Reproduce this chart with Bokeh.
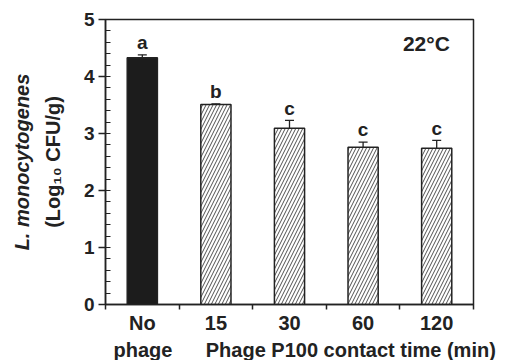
from bokeh.plotting import figure
from bokeh.models import (Range1d, FixedTicker, ColumnDataSource, Whisker, TeeHead,
                          Label, LabelSet, LinearAxis, Title)
from bokeh.core.properties import value
from bokeh.embed import file_html
from bokeh.resources import INLINE

# ---- data ----
categories = ["No", "15", "30", "60", "120"]
category_second_line = "phage"
counts = [4.33, 3.51, 3.09, 2.76, 2.74]
errors = [0.05, 0.01, 0.14, 0.09, 0.14]
letters = ["a", "b", "c", "c", "c"]
y_ticks = [0, 1, 2, 3, 4, 5]
x_title = "Phage P100 contact time (min)"
y_title_1 = "L. monocytogenes"
y_title_2 = "(Log\u2081\u2080 CFU/g)"
temp_label = "22\u00b0C"

FONT = "Liberation Sans"
INK = "#222222"

n = len(categories)
xs = [i + 0.5 for i in range(n)]

p = figure(width=514, height=360, output_backend="svg", toolbar_location=None,
           x_range=Range1d(0, n), y_range=Range1d(0, 5),
           min_border_left=105, min_border_right=41, min_border_top=19,
           min_border_bottom=0)
p.background_fill_color = "white"
p.border_fill_color = "white"
p.xgrid.visible = False
p.ygrid.visible = False
p.outline_line_color = INK
p.outline_line_width = 1.5

# ---- y axis ----
ya = p.yaxis[0]
ya.ticker = FixedTicker(ticks=y_ticks, minor_ticks=[i * 0.2 for i in range(26)])
ya.axis_line_width = 1.5
ya.axis_line_color = INK
ya.major_tick_line_color = INK
ya.major_tick_line_width = 1.5
ya.major_tick_out = 7
ya.major_tick_in = 0
ya.minor_tick_line_color = INK
ya.minor_tick_line_width = 1.2
ya.minor_tick_in = 5
ya.minor_tick_out = 0
ya.major_label_text_font = FONT
ya.major_label_text_font_style = "bold"
ya.major_label_text_font_size = "19px"
ya.major_label_text_color = INK
ya.major_label_standoff = 4
ya.axis_label = y_title_2
ya.axis_label_text_font = FONT
ya.axis_label_text_font_style = "bold"
ya.axis_label_text_font_size = "20px"
ya.axis_label_text_color = INK
ya.axis_label_standoff = 17

ya2 = LinearAxis(ticker=FixedTicker(ticks=[]), axis_label=y_title_1,
                 axis_line_color=None, major_tick_line_color=None,
                 minor_tick_line_color=None, major_label_text_font_size="0px",
                 axis_label_text_font=FONT,
                 axis_label_text_font_style="bold italic",
                 axis_label_text_font_size="20px",
                 axis_label_text_color=INK, axis_label_standoff=6)
p.add_layout(ya2, "left")

# ---- x axis: labels at bar centres, ticks at category boundaries ----
xa = p.xaxis[0]
xa.ticker = FixedTicker(ticks=xs, minor_ticks=list(range(n + 1)))
xa.major_label_overrides = {x: c for x, c in zip(xs, categories)}
xa.axis_line_width = 1.5
xa.axis_line_color = INK
xa.major_tick_line_color = None
xa.major_tick_out = 0
xa.major_tick_in = 0
xa.minor_tick_line_color = INK
xa.minor_tick_line_width = 1.5
xa.minor_tick_out = 5
xa.minor_tick_in = 0
xa.major_label_text_font = FONT
xa.major_label_text_font_style = "bold"
xa.major_label_text_font_size = "20px"
xa.major_label_text_color = INK
xa.major_label_standoff = 2

nb = "\u00a0" * 6
p.add_layout(Title(text=category_second_line + nb + x_title, align="left",
                   offset=8, text_font=FONT, text_font_style="bold",
                   text_font_size="20px", text_color=INK, standoff=0),
             "below")

# ---- bars ----
src = ColumnDataSource(dict(
    x=xs, top=counts,
    upper=[c + e for c, e in zip(counts, errors)],
    lower=[c - e for c, e in zip(counts, errors)],
    letter_y=[c + e + 0.1 for c, e in zip(counts, errors)],
    letters=letters,
    fill=["#1c1c1c"] + ["white"] * (n - 1),
    hatch=[" "] + ["/"] * (n - 1),
))
p.vbar(x="x", top="top", width=0.41, bottom=0, source=src,
       fill_color="fill", line_color=INK, line_width=1.5,
       hatch_pattern="hatch", hatch_color=INK, hatch_scale=7,
       hatch_weight=0.8)

w = Whisker(base="x", upper="upper", lower="lower", source=src,
            line_color=INK, line_width=1.3,
            upper_head=TeeHead(size=9, line_color=INK, line_width=1.3),
            lower_head=TeeHead(size=9, line_color=INK, line_width=1.3))
p.add_layout(w)

p.add_layout(LabelSet(x="x", y="letter_y", text="letters", source=src,
                      text_align="center", text_baseline="alphabetic",
                      text_font=value(FONT), text_font_style="bold",
                      text_font_size="19px", text_color=INK))

p.add_layout(Label(x=4.36, y=4.58, text=temp_label, text_align="center",
                   text_baseline="middle", text_font=FONT,
                   text_font_style="bold", text_font_size="21px",
                   text_color=INK))

open("out.html", "w").write(file_html(p, INLINE))
